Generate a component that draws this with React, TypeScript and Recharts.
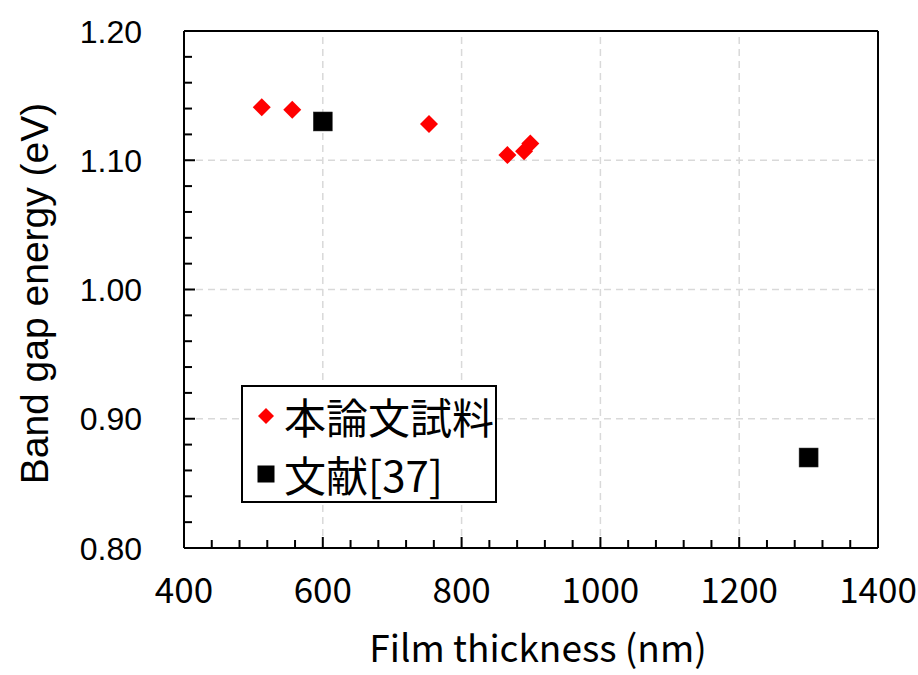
import React from "react";
import {
  ScatterChart,
  Scatter,
  XAxis,
  YAxis,
  ReferenceLine,
  Legend,
} from "recharts";

const seriesSampleName = "本論文試料";
const seriesRefName = "文献[37]";
const legendOrder = [seriesSampleName, seriesRefName];

const sampleThickness = [512, 556, 753, 866, 890, 899];
const sampleGap = [1.141, 1.139, 1.128, 1.104, 1.107, 1.113];

const refThickness = [600, 1300];
const refGap = [1.13, 0.87];

const xTicks = [400, 440, 480, 520, 560, 600, 640, 680, 720, 760, 800, 840, 880, 920, 960, 1000, 1040, 1080, 1120, 1160, 1200, 1240, 1280, 1320, 1360, 1400];
const yTicks = [0.8, 0.82, 0.84, 0.86, 0.88, 0.9, 0.92, 0.94, 0.96, 0.98, 1.0, 1.02, 1.04, 1.06, 1.08, 1.1, 1.12, 1.14, 1.16, 1.18, 1.2];
const xGrid = [600, 800, 1000, 1200];
const yGrid = [0.9, 1.0, 1.1];

const sampleData = sampleThickness.map((x, i) => ({ x, y: sampleGap[i] }));
const refData = refThickness.map((x, i) => ({ x, y: refGap[i] }));

const JP = "'Noto Sans CJK JP', 'Noto Sans', sans-serif";
const ARIAL = "'Liberation Sans', Arial, sans-serif";

const Diamond = (props: any) => {
  const { cx, cy } = props;
  const r = 9;
  return <polygon points={`${cx},${cy - r} ${cx + r},${cy} ${cx},${cy + r} ${cx - r},${cy}`} fill="#ff0000" />;
};

const Square = (props: any) => {
  const { cx, cy } = props;
  const s = 19;
  return <rect x={cx - s / 2} y={cy - s / 2} width={s} height={s} fill="#000" stroke="#333" strokeWidth={0.5} />;
};

const XTick = (props: any) => {
  const { x, y, payload } = props;
  const major = payload.value % 200 === 0;
  return (
    <g>
      <line x1={x} x2={x} y1={y} y2={y - (major ? 11 : 8)} stroke="#000" strokeWidth={2} />
      {major && (
        <text x={x} y={y + 55} textAnchor="middle" fontFamily={JP} fontSize={35} fill="#000">
          {payload.value}
        </text>
      )}
    </g>
  );
};

const YTick = (props: any) => {
  const { x, y, payload } = props;
  const major = Math.round(payload.value * 100) % 10 === 0;
  return (
    <g>
      <line x1={x} x2={x + (major ? 11 : 8)} y1={y} y2={y} stroke="#000" strokeWidth={2} />
      {major && (
        <text x={x - 42} y={y} dy="0.36em" textAnchor="end" fontFamily={ARIAL} fontSize={32} fill="#000">
          {payload.value.toFixed(2)}
        </text>
      )}
    </g>
  );
};

const LegendContent = (props: any) => {
  const { payload } = props;
  const items = [...(payload || [])].sort(
    (a: any, b: any) => legendOrder.indexOf(a.value) - legendOrder.indexOf(b.value)
  );
  return (
    <div
      style={{
        boxSizing: "border-box",
        width: 256,
        height: 118,
        border: "2px solid #000",
        background: "#fff",
        paddingTop: 0,
        paddingLeft: 13,
      }}
    >
      {items.map((it: any, i: number) => (
        <div key={i} style={{ display: "flex", alignItems: "center", height: 58 }}>
          <svg width={20} height={20} style={{ display: "block" }}>
            {it.value === seriesSampleName ? (
              <polygon points="10,2 18,10 10,18 2,10" fill="#ff0000" />
            ) : (
              <rect x={1.5} y={1.5} width={17} height={17} fill="#000" />
            )}
          </svg>
          <span
            style={{
              marginLeft: 8,
              fontFamily: JP,
              fontSize: 42,
              lineHeight: "58px",
              color: "#000",
              whiteSpace: "nowrap",
            }}
          >
            {it.value}
          </span>
        </div>
      ))}
    </div>
  );
};

export default function App() {
  return (
    <div style={{ position: "absolute", left: 0, top: 0, background: "#fff" }}>
      <ScatterChart width={918} height={675} margin={{ top: 31, right: 40, bottom: 126, left: 183 }}>
        {xGrid.map((v) => (
          <ReferenceLine key={`gx${v}`} x={v} stroke="#d9d9d9" strokeWidth={1.5} strokeDasharray="7 5" />
        ))}
        {yGrid.map((v) => (
          <ReferenceLine key={`gy${v}`} y={v} stroke="#d9d9d9" strokeWidth={1.5} strokeDasharray="7 5" />
        ))}
        <ReferenceLine x={1400} stroke="#000" strokeWidth={2} />
        <ReferenceLine y={1.2} stroke="#000" strokeWidth={2} />
        <XAxis
          type="number"
          dataKey="x"
          domain={[400, 1400]}
          ticks={xTicks}
          interval={0}
          height={1}
          tickSize={0}
          tickMargin={0}
          tickLine={false}
          axisLine={{ stroke: "#000", strokeWidth: 2 }}
          tick={<XTick />}
          allowDataOverflow
          label={{
            content: (p: any) => (
              <text
                x={p.viewBox.x + p.viewBox.width / 2 + 7}
                y={p.viewBox.y + 114}
                textAnchor="middle"
                fontFamily={JP}
                fontSize={37}
                fill="#000"
              >
                Film thickness (nm)
              </text>
            ),
          }}
        />
        <YAxis
          type="number"
          dataKey="y"
          domain={[0.8, 1.2]}
          ticks={yTicks}
          interval={0}
          width={1}
          tickSize={0}
          tickMargin={0}
          tickLine={false}
          axisLine={{ stroke: "#000", strokeWidth: 2 }}
          tick={<YTick />}
          allowDataOverflow
          label={{
            content: (p: any) => {
              const cx = p.viewBox.x + p.viewBox.width - 150;
              const cy = p.viewBox.y + p.viewBox.height / 2 + 4;
              return (
                <text
                  x={cx}
                  y={cy}
                  dy="0.36em"
                  textAnchor="middle"
                  transform={`rotate(-90 ${cx} ${cy})`}
                  fontFamily={ARIAL}
                  fontSize={39}
                  fill="#000"
                >
                  Band gap energy (eV)
                </text>
              );
            },
          }}
        />
        <Scatter name={seriesSampleName} data={sampleData} fill="#ff0000" shape={<Diamond />} isAnimationActive={false} />
        <Scatter name={seriesRefName} data={refData} fill="#000" shape={<Square />} isAnimationActive={false} />
        <Legend
          layout="vertical"
          align="center"
          verticalAlign="middle"
          content={<LegendContent />}
          wrapperStyle={{ left: 241, top: 385, width: 256, height: 118 }}
        />
      </ScatterChart>
    </div>
  );
}
